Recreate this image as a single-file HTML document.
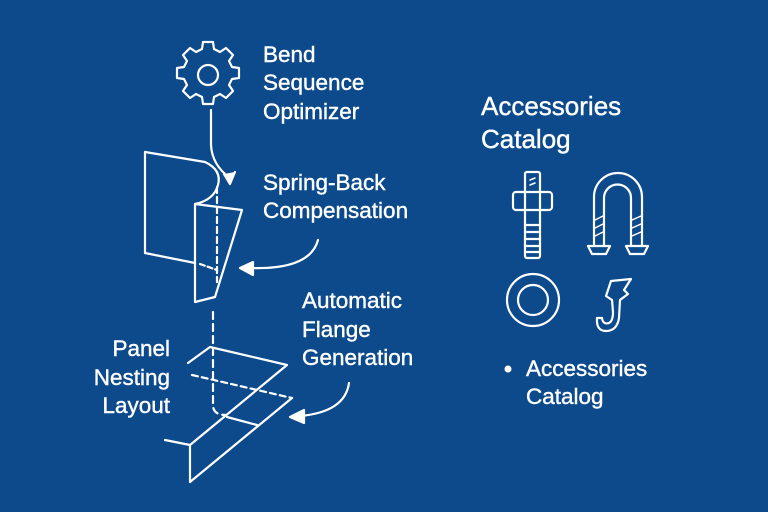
<!DOCTYPE html>
<html><head><style>
body{margin:0;width:768px;height:512px;overflow:hidden;background:#0c4a8c;}
svg{display:block}
text{font-family:"Liberation Sans",sans-serif;fill:#fff;stroke:#fff;stroke-width:0.4;}
</style></head><body>
<svg width="768" height="512" viewBox="0 0 768 512" xmlns="http://www.w3.org/2000/svg">
<rect width="768" height="512" fill="#0c4a8c"/>
<g fill="none" stroke="#fff" stroke-width="2.2" stroke-linejoin="round" stroke-linecap="round">
<path d="M203,42 h10 l1,7 l6,3 l6,-4 l7,7 l-4,6 l3,6 l7,1 v10 l-7,1 l-3,6 l4,6 l-7,7 l-6,-4 l-6,3 l-1,7 h-10 l-1,-7 l-6,-3 l-6,4 l-7,-7 l4,-6 l-3,-6 l-7,-1 v-10 l7,-1 l3,-6 l-4,-6 l7,-7 l6,4 l6,-3 z"/>
<circle cx="208" cy="75" r="10"/>
<path d="M211,110 V145 Q212,165 230,178"/>
<path d="M224,174 L230,184 L235,172" fill="#fff"/>
<path d="M145,152 V253 L195,263"/>
<path d="M145,152 L205,162 Q222,170 218,185 Q214,200 195,204"/>
<path d="M195,204 L242,210 L215,297 L195,302 Z"/>
<path d="M217,187 V282" stroke-dasharray="6,4"/>
<path d="M200,264 L217,270" stroke-dasharray="5,3"/>
<path d="M318,240 Q310,270 250,268"/>
<path d="M253,262 L240,268 L253,275 Z" fill="#fff"/>
<path d="M213,312 V405 Q213,415 226,415" stroke-dasharray="7,5"/>
<path d="M188,363 L210,347 L287,365 L190,445 L165,440"/>
<path d="M190,445 V482 L292,398"/>
<path d="M192,375 L292,398" stroke-dasharray="6,4"/>
<path d="M227,417 L257,425"/>
<path d="M349,383 Q345,412 300,416"/>
<path d="M304,410 L290,417 L304,423 Z" fill="#fff"/>
<rect x="525" y="172" width="15" height="86" rx="2"/>
<rect x="513" y="192" width="39" height="18" rx="3"/>
<path d="M525,225 H540 M525,232 H540 M525,239 H540 M525,246 H540 M525,252 H540"/>
<path d="M530,180 L535,178 M530,185 L535,183" stroke-width="1.5"/>
<path d="M594,246 V197 A24,24 0 0 1 642,197 V246"/>
<path d="M604,246 V198 A13,13 0 0 1 631,198 V246"/>
<path d="M588,246 H610 L606,254 H592 Z M626,246 H648 L644,254 H630 Z"/>
<path d="M595,220 L603,216 M595,228 L603,224 M595,236 L603,232 M632,220 L641,216 M632,228 L641,224 M632,236 L641,232" stroke-width="1.5"/>
<circle cx="533" cy="300" r="26"/>
<circle cx="533" cy="300" r="15"/>
<path d="M611,281 L631,279 L624,290 L628,294 L620,300 L619,318 Q617,331 606,331 Q596,331 597,318 L602,318 Q603,325 609,323 Q613,321 613,312 L612,300 L606,296 Z"/>
</g>
<g font-size="22.5">
<text x="263" y="62">Bend</text>
<text x="263" y="90">Sequence</text>
<text x="263" y="119">Optimizer</text>
<text x="263" y="190">Spring-Back</text>
<text x="263" y="218">Compensation</text>
<text x="302" y="308">Automatic</text>
<text x="302" y="337">Flange</text>
<text x="302" y="365">Generation</text>
<text x="170" y="356" text-anchor="end">Panel</text>
<text x="170" y="385" text-anchor="end">Nesting</text>
<text x="170" y="413" text-anchor="end">Layout</text>
<text x="526" y="376">Accessories</text>
<text x="526" y="404">Catalog</text>
</g>
<circle cx="508" cy="369" r="3.5" fill="#fff"/>
<text x="481" y="115" font-size="26">Accessories</text>
<text x="481" y="148" font-size="26">Catalog</text>
</svg>
</body></html>
